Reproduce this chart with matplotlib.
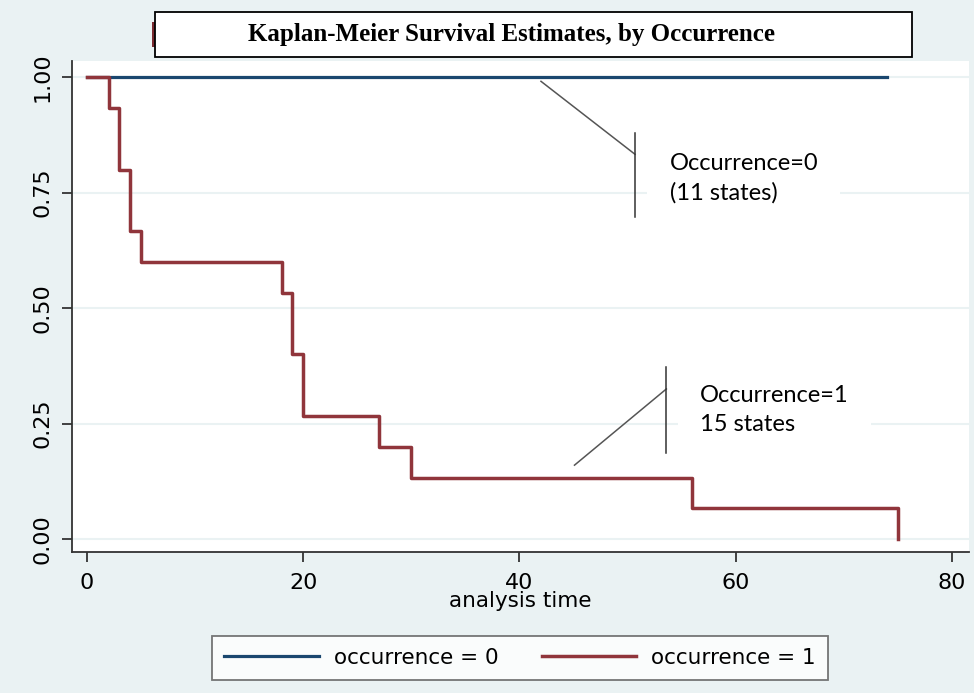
import matplotlib.pyplot as plt
from matplotlib.lines import Line2D
from matplotlib.patches import Rectangle

# Kaplan-Meier step data
times_0 = [0, 74]
surv_0 = [1.0, 1.0]
times_1 = [0, 2, 3, 4, 5, 18, 19, 20, 27, 30, 56, 75]
surv_1 = [1.0, 0.933, 0.800, 0.667, 0.600, 0.533, 0.400, 0.267, 0.200, 0.133, 0.067, 0.0]
series_labels = ["occurrence = 0", "occurrence = 1"]
x_ticks = [0, 20, 40, 60, 80]
y_ticks = [0.0, 0.25, 0.50, 0.75, 1.00]

blue = '#1a476f'
red = '#90353b'
bg = '#eaf2f3'

fig = plt.figure(figsize=(9.74, 6.93), dpi=100, facecolor=bg)
W, H = 974, 693
ax = fig.add_axes([72 / W, 1 - 552 / H, (969 - 72) / W, (552 - 61) / H])
ax.set_facecolor('white')

ax.set_xlim(-1.39, 81.6)
ax.set_ylim(-0.028, 1.035)

ax.grid(axis='y', color=bg, linewidth=1.5, zorder=0)
ax.set_axisbelow(True)

ax.step(times_0, surv_0, where='post', color=blue, linewidth=2.3, zorder=3)
ax.step(times_1, surv_1, where='post', color=red, linewidth=2.5, zorder=4)

for s in ['top', 'right']:
    ax.spines[s].set_visible(False)
for s in ['left', 'bottom']:
    ax.spines[s].set_color('#333333')
    ax.spines[s].set_linewidth(1.3)

ax.set_xticks(x_ticks)
ax.set_yticks(y_ticks)
ax.set_yticklabels([f"{v:.2f}" for v in y_ticks], rotation=90, va='center')
ax.tick_params(axis='both', length=7, width=1.3, color='#333333', labelsize=16)
ax.tick_params(axis='x', pad=8)
ax.tick_params(axis='y', pad=7)
ax.set_xlabel("analysis time", fontsize=15.5, labelpad=-1)

# annotations (callouts)
ax.plot([42.0, 50.7], [0.991, 0.833], color='#555555', linewidth=1.1, zorder=5)
ax.plot([50.7, 50.7], [0.879, 0.697], color='#333333', linewidth=1.1, zorder=5)
ax.text(53.9, 0.781, "Occurrence=0\n(11 states)", fontsize=17, family='Lato',
        va='center', ha='left', linespacing=1.45,
        bbox=dict(facecolor='white', edgecolor='none', pad=16), zorder=5)

ax.plot([45.1, 53.6], [0.160, 0.325], color='#555555', linewidth=1.1, zorder=5)
ax.plot([53.6, 53.6], [0.372, 0.186], color='#333333', linewidth=1.1, zorder=5)
ax.text(56.7, 0.279, "Occurrence=1\n15 states", fontsize=17, family='Lato',
        va='center', ha='left', linespacing=1.45,
        bbox=dict(facecolor='white', edgecolor='none', pad=16), zorder=5)

# title box
fig.patches.append(Rectangle((155 / W, 1 - 57 / H), (912 - 155) / W, 45 / H,
                             transform=fig.transFigure, facecolor='white',
                             edgecolor='black', linewidth=1.3, zorder=5))
fig.patches.append(Rectangle((152 / W, 1 - 47 / H), 3 / W, 25 / H,
                             transform=fig.transFigure, facecolor='#7a2a30',
                             edgecolor='none', zorder=4))
fig.text(512 / W, 1 - 34 / H, "Kaplan-Meier Survival Estimates, by Occurrence",
         family='Liberation Serif', fontweight='bold', fontsize=18,
         ha='center', va='center', zorder=6)

handles = [Line2D([], [], color=blue, linewidth=2.3),
           Line2D([], [], color=red, linewidth=2.5)]
leg = fig.legend(handles, series_labels, loc='center', ncol=2,
                 bbox_to_anchor=(520 / W, 1 - 658 / H), fontsize=15.5,
                 frameon=True, fancybox=False, edgecolor='#555555',
                 handlelength=4.4, handletextpad=0.7, columnspacing=2.0,
                 borderpad=0.55)
leg.get_frame().set_linewidth(1.3)

fig.savefig('out.png', dpi=100, facecolor=bg)
